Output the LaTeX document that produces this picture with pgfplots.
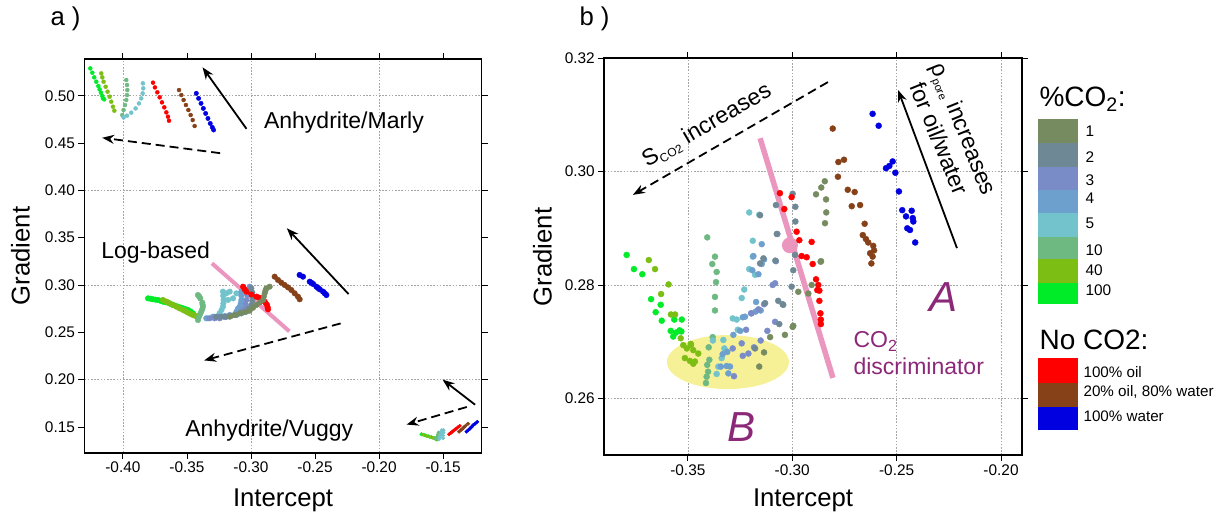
\documentclass[border=0pt]{standalone}
\usepackage{fontspec}
\setmainfont{Liberation Sans}
\usepackage{pgfplots}
\pgfplotsset{compat=1.18}
\usetikzlibrary{arrows.meta}

\definecolor{cA}{RGB}{118,140,96}   % 1 %CO2
\definecolor{cB}{RGB}{110,136,150}  % 2
\definecolor{cC}{RGB}{122,140,200}  % 3
\definecolor{cD}{RGB}{110,160,205}  % 4
\definecolor{cE}{RGB}{115,195,205}  % 5
\definecolor{cF}{RGB}{110,185,130}  % 10
\definecolor{cG}{RGB}{125,190,20}   % 40
\definecolor{cH}{RGB}{0,235,40}     % 100
\definecolor{oil}{RGB}{255,0,0}
\definecolor{mix}{RGB}{135,65,25}
\definecolor{wat}{RGB}{0,0,225}
\definecolor{pinkline}{RGB}{235,150,190}
\definecolor{purp}{RGB}{140,40,120}
\definecolor{ell}{RGB}{246,240,150}

\newcommand\annfont{\fontsize{23}{27}\selectfont}
\newcommand\labfont{\fontsize{25.7}{28}\selectfont}
\newcommand\tickfont{\fontsize{15.4}{17}\selectfont}

\pgfplotsset{
  panel/.style={
    scale only axis, anchor=south west, clip=false,
    tick align=outside, major tick length=6pt,
    tick style={line width=0.9pt, black},
    tick label style={font=\tickfont},
    grid style={gray!70, line width=0.6pt, dash pattern=on 1.6pt off 1.6pt},
  },
  dots/.style={only marks, mark=*, mark size=#1},
}
\tikzset{
  solidarrow/.style={line width=1.8pt, -{Stealth[length=12pt,width=9pt]}},
  dasharrow/.style={line width=1.8pt, dash pattern=on 9pt off 5pt, -{Stealth[length=12pt,width=9pt]}},
  frame/.style={line width=1.8pt, black},
}

\begin{document}
\begin{tikzpicture}[x=1pt,y=1pt]
\useasboundingbox (0pt,0pt) rectangle (1225pt,518pt);

% ---------------- panel a ----------------
\begin{axis}[panel, at={(84.5pt,65.3pt)}, width=397pt, height=393.4pt,
  xmin=-0.43, xmax=-0.12, ymin=0.1228, ymax=0.5385,
  xtick={-0.40,-0.35,-0.30,-0.25,-0.20,-0.15},
  xticklabels={-0.40,-0.35,-0.30,-0.25,-0.20,-0.15},
  ytick={0.15,0.20,0.25,0.30,0.35,0.40,0.45,0.50},
  yticklabels={0.15,0.20,0.25,0.30,0.35,0.40,0.45,0.50},
  extra x ticks={-0.4,-0.3,-0.2}, extra x tick labels={},
  extra y ticks={0.2,0.3,0.4,0.5}, extra y tick labels={},
  extra tick style={grid=major},
]
% Anhydrite/Marly
\addplot[dots=2pt, color=cH] coordinates {(-0.4255,0.5289) (-0.4239,0.5243) (-0.4224,0.5194) (-0.4208,0.5148) (-0.4192,0.5102) (-0.4182,0.5067) (-0.4172,0.5032) (-0.4161,0.4997) (-0.4156,0.4972) (-0.4146,0.4962)};
\addplot[dots=2pt, color=cG] coordinates {(-0.4169,0.5236) (-0.4161,0.5194) (-0.4151,0.5148) (-0.4135,0.5095) (-0.4120,0.5043) (-0.4104,0.4990) (-0.4091,0.4937) (-0.4078,0.4884) (-0.4067,0.4842)};
\addplot[dots=2pt, color=cF] coordinates {(-0.3974,0.5166) (-0.3968,0.5113) (-0.3966,0.5060) (-0.3968,0.5007) (-0.3974,0.4955) (-0.3984,0.4902) (-0.3995,0.4849) (-0.4005,0.4796)};
\addplot[dots=2pt, color=cE] coordinates {(-0.3844,0.5131) (-0.3841,0.5078) (-0.3846,0.5025) (-0.3857,0.4972) (-0.3875,0.4919) (-0.3901,0.4866) (-0.3935,0.4821) (-0.3968,0.4789) (-0.3995,0.4771)};
\addplot[dots=2pt, color=oil] coordinates {(-0.3765,0.5138) (-0.3750,0.5088) (-0.3731,0.5036) (-0.3713,0.4983) (-0.3695,0.4930) (-0.3677,0.4877) (-0.3661,0.4824) (-0.3648,0.4778) (-0.3640,0.4736)};
\addplot[dots=2pt, color=mix] coordinates {(-0.3562,0.5060) (-0.3544,0.5007) (-0.3526,0.4955) (-0.3508,0.4902) (-0.3489,0.4849) (-0.3471,0.4796) (-0.3455,0.4743) (-0.3440,0.4680)};
\addplot[dots=2.2pt, color=wat] coordinates {(-0.3427,0.5025) (-0.3409,0.4972) (-0.3390,0.4919) (-0.3372,0.4866) (-0.3354,0.4813) (-0.3336,0.4760) (-0.3318,0.4707) (-0.3302,0.4666) (-0.3292,0.4638)};
% Log-based
\addplot[dots=2.8pt, color=cH] coordinates {(-0.3804,0.2859) (-0.3785,0.2855) (-0.3765,0.2849) (-0.3745,0.2845) (-0.3726,0.2842) (-0.3706,0.2833) (-0.3687,0.2824) (-0.3668,0.2818) (-0.3648,0.2813) (-0.3628,0.2800) (-0.3609,0.2789) (-0.3590,0.2780) (-0.3570,0.2771) (-0.3550,0.2762) (-0.3531,0.2754) (-0.3512,0.2745) (-0.3492,0.2736) (-0.3472,0.2720) (-0.3453,0.2701)};
\addplot[dots=2.8pt, color=cG] coordinates {(-0.3687,0.2842) (-0.3660,0.2825) (-0.3635,0.2806) (-0.3610,0.2790) (-0.3583,0.2771) (-0.3557,0.2752) (-0.3531,0.2736) (-0.3510,0.2722) (-0.3492,0.2708) (-0.3472,0.2695) (-0.3453,0.2683) (-0.3432,0.2672) (-0.3414,0.2665)};
\addplot[dots=2.8pt, color=cF] coordinates {(-0.3414,0.2894) (-0.3405,0.2880) (-0.3396,0.2859) (-0.3380,0.2813) (-0.3378,0.2792) (-0.3375,0.2771) (-0.3380,0.2745) (-0.3388,0.2718) (-0.3398,0.2690) (-0.3406,0.2665) (-0.3414,0.2630)};
\addplot[dots=2.8pt, color=cE] coordinates {(-0.3336,0.2648) (-0.3284,0.2665) (-0.3245,0.2701) (-0.3230,0.2736) (-0.3219,0.2771) (-0.3216,0.2806) (-0.3214,0.2842) (-0.3217,0.2886) (-0.3219,0.2930) (-0.3192,0.2912) (-0.3179,0.2842) (-0.3166,0.2930) (-0.3140,0.2859) (-0.3114,0.2912) (-0.3101,0.2754)};
\addplot[dots=2.8pt, color=cD] coordinates {(-0.3349,0.2648) (-0.3297,0.2665) (-0.3271,0.2660) (-0.3245,0.2665) (-0.3205,0.2672) (-0.3166,0.2683) (-0.3114,0.2718) (-0.3100,0.2745) (-0.3088,0.2771) (-0.3080,0.2806) (-0.3075,0.2842) (-0.3075,0.2886) (-0.3075,0.2930)};
\addplot[dots=2.8pt, color=cC] coordinates {(-0.3323,0.2648) (-0.3284,0.2648) (-0.3245,0.2648) (-0.3205,0.2660) (-0.3166,0.2672) (-0.3127,0.2686) (-0.3088,0.2701) (-0.3068,0.2728) (-0.3049,0.2754) (-0.3042,0.2798) (-0.3036,0.2842) (-0.3030,0.2895) (-0.3023,0.2947) (-0.3010,0.2982)};
\addplot[dots=2.8pt, color=cB] coordinates {(-0.3271,0.2665) (-0.3232,0.2665) (-0.3192,0.2665) (-0.3153,0.2674) (-0.3114,0.2683) (-0.3075,0.2700) (-0.3036,0.2718) (-0.3016,0.2754) (-0.2997,0.2789) (-0.2990,0.2833) (-0.2984,0.2877) (-0.2990,0.2921) (-0.2997,0.2965)};
\addplot[dots=2.8pt, color=oil] coordinates {(-0.3062,0.2982) (-0.3049,0.2954) (-0.3036,0.2930) (-0.2997,0.2900) (-0.2958,0.2877) (-0.2940,0.2868) (-0.2919,0.2859) (-0.2893,0.2824) (-0.2884,0.2806) (-0.2875,0.2789) (-0.2870,0.2766) (-0.2867,0.2743)};
\addplot[dots=2.8pt, color=cA] coordinates {(-0.3166,0.2665) (-0.3127,0.2683) (-0.3088,0.2701) (-0.3049,0.2715) (-0.3010,0.2729) (-0.2984,0.2760) (-0.2958,0.2789) (-0.2932,0.2815) (-0.2906,0.2842) (-0.2900,0.2877) (-0.2893,0.2912) (-0.2887,0.2940) (-0.2880,0.2965) (-0.2854,0.2982)};
\addplot[dots=2.8pt, color=mix] coordinates {(-0.2815,0.3088) (-0.2789,0.3053) (-0.2763,0.3025) (-0.2737,0.3000) (-0.2711,0.2975) (-0.2685,0.2947) (-0.2659,0.2912) (-0.2633,0.2877) (-0.2620,0.2849)};
\addplot[dots=2.8pt, color=wat] coordinates {(-0.2620,0.3106) (-0.2594,0.3088) (-0.2541,0.3035) (-0.2528,0.3023) (-0.2515,0.3011) (-0.2489,0.2982) (-0.2476,0.2968) (-0.2463,0.2954) (-0.2437,0.2930) (-0.2424,0.2912) (-0.2411,0.2894)};
% Anhydrite/Vuggy
\addplot[dots=1.8pt, color=cH] coordinates {(-0.1669,0.1423) (-0.1643,0.1413) (-0.1617,0.1402) (-0.1591,0.1392) (-0.1565,0.1381) (-0.1547,0.1367)};
\addplot[dots=1.8pt, color=cG] coordinates {(-0.1656,0.1418) (-0.1630,0.1405) (-0.1604,0.1395) (-0.1578,0.1385) (-0.1556,0.1372)};
\addplot[dots=1.8pt, color=cF] coordinates {(-0.1560,0.1375) (-0.1548,0.1395) (-0.1540,0.1420) (-0.1535,0.1440)};
\addplot[dots=1.8pt, color=cE] coordinates {(-0.1531,0.1370) (-0.1525,0.1395) (-0.1519,0.1420) (-0.1513,0.1445) (-0.1510,0.1465) (-0.1500,0.1381) (-0.1500,0.1410) (-0.1498,0.1440) (-0.1497,0.1465)};
\addplot[dots=1.8pt, color=oil] coordinates {(-0.1453,0.1423) (-0.1440,0.1437) (-0.1427,0.1451) (-0.1414,0.1465) (-0.1401,0.1479) (-0.1386,0.1495) (-0.1370,0.1511)};
\addplot[dots=1.8pt, color=mix] coordinates {(-0.1375,0.1451) (-0.1362,0.1466) (-0.1348,0.1482) (-0.1336,0.1498) (-0.1323,0.1514) (-0.1305,0.1535)};
\addplot[dots=1.8pt, color=wat] coordinates {(-0.1317,0.1451) (-0.1304,0.1466) (-0.1291,0.1482) (-0.1278,0.1500) (-0.1266,0.1518) (-0.1250,0.1535) (-0.1234,0.1553)};

\draw[pinkline, line width=4pt] (axis cs:-0.3305,0.3229) -- (axis cs:-0.2700,0.2510);
\draw[solidarrow] (axis cs:-0.3035,0.4650) -- (axis cs:-0.3378,0.5300);
\draw[dasharrow] (axis cs:-0.3241,0.4393) -- (axis cs:-0.4162,0.4556);
\draw[solidarrow] (axis cs:-0.2238,0.2904) -- (axis cs:-0.2720,0.3600);
\draw[dasharrow] (axis cs:-0.2300,0.2594) -- (axis cs:-0.3366,0.2203);
\draw[solidarrow] (axis cs:-0.1250,0.1735) -- (axis cs:-0.1504,0.2000);
\draw[dasharrow] (axis cs:-0.1315,0.1711) -- (axis cs:-0.1785,0.1525);
\node[font=\annfont] at (axis cs:-0.2274,0.4716) {Anhydrite/Marly};
\node[font=\annfont] at (axis cs:-0.3744,0.3346) {Log-based};
\node[font=\annfont] at (axis cs:-0.2857,0.1464) {Anhydrite/Vuggy};
\draw[frame] (rel axis cs:0,0) rectangle (rel axis cs:1,1);
\end{axis}

% ---------------- panel b ----------------
\begin{axis}[panel, at={(604.3pt,63pt)}, width=417.6pt, height=396.7pt,
  xmin=-0.39, xmax=-0.19, ymin=0.25, ymax=0.32,
  xtick={-0.35,-0.30,-0.25,-0.20},
  xticklabels={-0.35,-0.30,-0.25,-0.20},
  ytick={0.26,0.28,0.30,0.32},
  yticklabels={0.26,0.28,0.30,0.32},
  grid=major,
]
\fill[ell] (axis cs:-0.3308,0.2664) ellipse [x radius=61pt, y radius=27pt];
\addplot[dots=3pt, color=cH] coordinates {(-0.3793,0.2853) (-0.3758,0.2828) (-0.3718,0.2819) (-0.3676,0.2775) (-0.3630,0.2765) (-0.3654,0.2752) (-0.3625,0.2737) (-0.3565,0.2739) (-0.3529,0.2739) (-0.3582,0.2719) (-0.3557,0.2716) (-0.3540,0.2720) (-0.3570,0.2709) (-0.3531,0.2718)};
\addplot[dots=3pt, color=cG] coordinates {(-0.3687,0.2844) (-0.3657,0.2828) (-0.3592,0.2801) (-0.3628,0.2784) (-0.3581,0.2748) (-0.3561,0.2748) (-0.3534,0.2706) (-0.3522,0.2694) (-0.3485,0.2694) (-0.3505,0.2688) (-0.3474,0.2685) (-0.3514,0.2671) (-0.3490,0.2666) (-0.3466,0.2665) (-0.3450,0.2679) (-0.3474,0.2661) (-0.3486,0.2696)};
\addplot[dots=3pt, color=cF] coordinates {(-0.3407,0.2884) (-0.3370,0.2850) (-0.3383,0.2837) (-0.3362,0.2823) (-0.3365,0.2805) (-0.3370,0.2779) (-0.3370,0.2755) (-0.3381,0.2708) (-0.3400,0.2690) (-0.3397,0.2668) (-0.3407,0.2659) (-0.3403,0.2647) (-0.3410,0.2638) (-0.3413,0.2627)};
\addplot[dots=3pt, color=cE] coordinates {(-0.3206,0.2928) (-0.3158,0.2924) (-0.3189,0.2878) (-0.3189,0.2850) (-0.3206,0.2828) (-0.3178,0.2818) (-0.3285,0.2741) (-0.3266,0.2739) (-0.3242,0.2777) (-0.3230,0.2792) (-0.3261,0.2721) (-0.3330,0.2703) (-0.3325,0.2688) (-0.3338,0.2671) (-0.3354,0.2656) (-0.3362,0.2643) (-0.3380,0.2702)};
\addplot[dots=3pt, color=cD] coordinates {(-0.3191,0.2826) (-0.3186,0.2851) (-0.3146,0.2872) (-0.3135,0.2845) (-0.3146,0.2837) (-0.3162,0.2819) (-0.3173,0.2770) (-0.3151,0.2755) (-0.3175,0.2753) (-0.3237,0.2743) (-0.3226,0.2744) (-0.3333,0.2678) (-0.3311,0.2682) (-0.3342,0.2656) (-0.3314,0.2657) (-0.3298,0.2656) (-0.3306,0.2644) (-0.3249,0.2719) (-0.3282,0.2712)};
\addplot[dots=3pt, color=cC] coordinates {(-0.3094,0.2800) (-0.3082,0.2803) (-0.3135,0.2766) (-0.3162,0.2757) (-0.3197,0.2750) (-0.3221,0.2721) (-0.3183,0.2690) (-0.3242,0.2697) (-0.3237,0.2675) (-0.3210,0.2679) (-0.3285,0.2688) (-0.3279,0.2639) (-0.3071,0.2890) (-0.3078,0.2842) (-0.3082,0.2735) (-0.3119,0.2719) (-0.3151,0.2702) (-0.3195,0.2750)};
\addplot[dots=3pt, color=cB] coordinates {(-0.2998,0.2961) (-0.2985,0.2938) (-0.3078,0.2941) (-0.2985,0.2912) (-0.3074,0.2890) (-0.2995,0.2826) (-0.3081,0.2843) (-0.2987,0.2853) (-0.3003,0.2797) (-0.3062,0.2731) (-0.3046,0.2766) (-0.3067,0.2772) (-0.3043,0.2765) (-0.3138,0.2847) (-0.3154,0.2838) (-0.3154,0.2923) (-0.3130,0.2768) (-0.3178,0.2688)};
\addplot[dots=3pt, color=cA] coordinates {(-0.2844,0.2983) (-0.2861,0.2972) (-0.2886,0.2960) (-0.2838,0.2951) (-0.2837,0.2928) (-0.2843,0.2909) (-0.2862,0.2842) (-0.2907,0.2800) (-0.2923,0.2785) (-0.2971,0.2788) (-0.2995,0.2728) (-0.3035,0.2712) (-0.3106,0.2708) (-0.3135,0.2681) (-0.3158,0.2656) (-0.2998,0.2726) (-0.2864,0.2841)};
\addplot[dots=3pt, color=oil] coordinates {(-0.3059,0.2962) (-0.3003,0.2955) (-0.3038,0.2934) (-0.2979,0.2894) (-0.2966,0.2879) (-0.2907,0.2876) (-0.2955,0.2851) (-0.2931,0.2849) (-0.2902,0.2837) (-0.2886,0.2810) (-0.2880,0.2791) (-0.2870,0.2790) (-0.2870,0.2772) (-0.2865,0.2750) (-0.2863,0.2739) (-0.2863,0.2731) (-0.2875,0.2800)};
\addplot[dots=3pt, color=mix] coordinates {(-0.2806,0.3076) (-0.2779,0.3017) (-0.2752,0.3021) (-0.2781,0.2991) (-0.2734,0.2968) (-0.2701,0.2964) (-0.2715,0.2939) (-0.2675,0.2941) (-0.2653,0.2908) (-0.2662,0.2888) (-0.2647,0.2881) (-0.2636,0.2875) (-0.2612,0.2869) (-0.2608,0.2861) (-0.2627,0.2856) (-0.2615,0.2850) (-0.2621,0.2838)};
\addplot[dots=3pt, color=wat] coordinates {(-0.2615,0.3102) (-0.2586,0.3081) (-0.2519,0.3018) (-0.2535,0.3010) (-0.2551,0.3006) (-0.2506,0.2998) (-0.2489,0.2965) (-0.2473,0.2932) (-0.2428,0.2931) (-0.2455,0.2921) (-0.2423,0.2918) (-0.2420,0.2912) (-0.2449,0.2900) (-0.2436,0.2897) (-0.2411,0.2875)};

\draw[pinkline, line width=5.5pt] (axis cs:-0.3154,0.3059) -- (axis cs:-0.2805,0.2636);
\fill[pinkline] (axis cs:-0.3011,0.2870) circle [radius=8pt];
\draw[dasharrow] (axis cs:-0.2829,0.3158) -- (axis cs:-0.3763,0.2959);
\draw[solidarrow] (axis cs:-0.2211,0.2865) -- (axis cs:-0.2493,0.3144);
\node[font=\annfont, rotate=30] at (axis cs:-0.3408,0.3081)
  {S\raisebox{-4pt}{\fontsize{12}{12}\selectfont CO2} increases};
\node[font=\annfont, rotate=-68, align=center] at (axis cs:-0.2235,0.3067)
  {ρ\raisebox{-4pt}{\fontsize{11}{11}\selectfont pore} increases\\for oil/water};
\node[font=\annfont, text=purp, anchor=west, align=left] at (axis cs:-0.2723,0.2680)
  {CO\textsubscript{2}\\discriminator};
\node[font=\fontsize{42}{42}\selectfont\itshape, text=purp] at (axis cs:-0.2277,0.2779) {A};
\node[font=\fontsize{42}{42}\selectfont\itshape, text=purp] at (axis cs:-0.3245,0.2549) {B};
\draw[frame] (rel axis cs:0,0) rectangle (rel axis cs:1,1);
\end{axis}

% ---------------- labels ----------------
\node[font=\labfont, anchor=west] at (47pt,499pt) {a )};
\node[font=\labfont, anchor=west] at (576pt,499pt) {b )};
\node[font=\labfont] at (283pt,18pt) {Intercept};
\node[font=\labfont] at (803pt,18pt) {Intercept};
\node[font=\labfont, rotate=90] at (20.5pt,262pt) {Gradient};
\node[font=\labfont, rotate=90] at (542.5pt,261pt) {Gradient};

% ---------------- legend ----------------
\node[font=\fontsize{28}{30}\selectfont, anchor=west] at (1036pt,419pt) {\%CO\textsubscript{2}:};
\fill[cA] (1038pt,398.7pt) rectangle (1078pt,374.7pt);
\fill[cB] (1038pt,374.7pt) rectangle (1078pt,351.3pt);
\fill[cC] (1038pt,351.3pt) rectangle (1078pt,328pt);
\fill[cD] (1038pt,328pt) rectangle (1078pt,304.7pt);
\fill[cE] (1038pt,304.7pt) rectangle (1078pt,281.3pt);
\fill[cF] (1038pt,281.3pt) rectangle (1078pt,258.7pt);
\fill[cG] (1038pt,258.7pt) rectangle (1078pt,235.3pt);
\fill[cH] (1038pt,235.3pt) rectangle (1078pt,213.7pt);
\begin{scope}[every node/.style={font=\tickfont, anchor=west}]
\node at (1082pt,386.3pt) {1};
\node at (1082pt,361.3pt) {2};
\node at (1082pt,338pt) {3};
\node at (1082pt,319.7pt) {4};
\node at (1082pt,294.7pt) {5};
\node at (1082pt,268pt) {10};
\node at (1082pt,248pt) {40};
\node at (1082pt,227.3pt) {100};
\end{scope}
\node[font=\fontsize{28}{30}\selectfont, anchor=west] at (1036pt,178pt) {No CO2:};
\fill[oil] (1038pt,159.7pt) rectangle (1078pt,134.7pt);
\fill[mix] (1038pt,134.7pt) rectangle (1078pt,111.3pt);
\fill[wat] (1038pt,111.3pt) rectangle (1078pt,88pt);
\begin{scope}[every node/.style={font=\fontsize{15.2}{17}\selectfont, anchor=west}]
\node at (1080pt,146.3pt) {100\% oil};
\node at (1080pt,126pt) {20\% oil, 80\% water};
\node at (1080pt,102pt) {100\% water};
\end{scope}
\end{tikzpicture}
\end{document}
